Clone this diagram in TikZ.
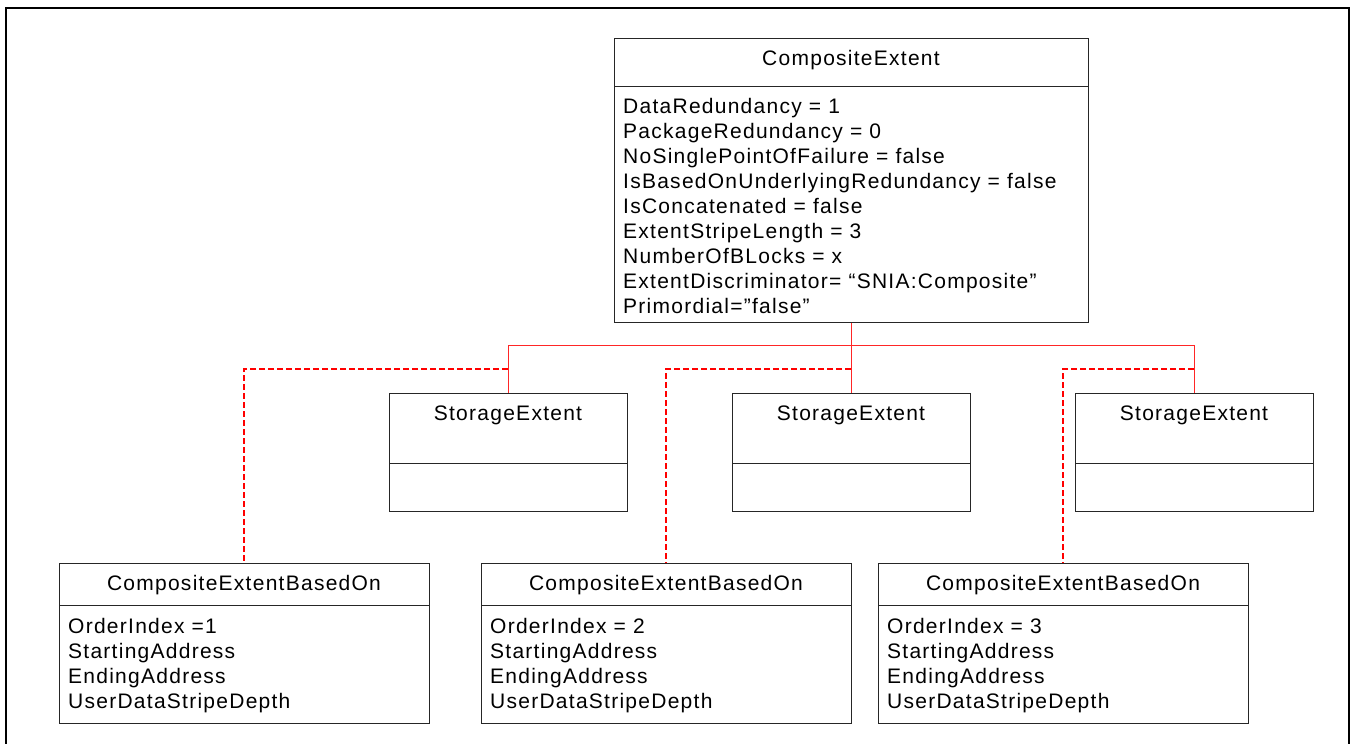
\documentclass[tikz,border=0pt]{standalone}
\usepackage{fontspec}
\newfontfamily\umlfont[LetterSpace=6]{Liberation Sans}
\begin{document}
\begin{tikzpicture}[x=1pt,y=-1pt,
  box/.style={draw=black!85,line width=1pt,rectangle,inner sep=0pt},
  txt/.style={inner sep=0pt,anchor=base west,font=\umlfont\fontsize{21}{25}\selectfont},
  ttl/.style={inner sep=0pt,anchor=base,font=\umlfont\fontsize{21}{25}\selectfont},
  rsolid/.style={draw=red!85,line width=1pt},
  rdash/.style={draw=red,line width=1.5pt,dash pattern=on 6pt off 3pt}]
\useasboundingbox (0,0) rectangle (1352,744);
\draw[line width=2pt] (6,744) -- (6,8) -- (1349,8) -- (1349,744);

% CompositeExtent
\node[box,minimum width=474pt,minimum height=284pt] (ce) at (851,180) {};
\draw[black!85,line width=1pt] (614,86) -- (1088,86);
\node[ttl] (cet) at (851,65) {CompositeExtent};
\node[txt] (a1) at (623,113) {DataRedundancy = 1};
\node[txt] (a2) at (623,138) {PackageRedundancy = 0};
\node[txt] (a3) at (623,163) {NoSinglePointOfFailure = false};
\node[txt] (a4) at (623,188) {IsBasedOnUnderlyingRedundancy = false};
\node[txt] (a5) at (623,213) {IsConcatenated = false};
\node[txt] (a6) at (623,238) {ExtentStripeLength = 3};
\node[txt] (a7) at (623,263) {NumberOfBLocks = x};
\node[txt] (a8) at (623,288) {ExtentDiscriminator= “SNIA:Composite”};
\node[txt] (a9) at (623,313) {Primordial=”false”};

% StorageExtents
\foreach \n/\cx in {1/508,2/851,3/1194}{
  \node[box,minimum width=238pt,minimum height=118pt] (se\n) at (\cx,452) {};
  \draw[black!85,line width=1pt] (\cx-119,463) -- (\cx+119,463);
  \node[ttl] (set\n) at (\cx,420) {StorageExtent};
}

% CompositeExtentBasedOn
\foreach \n/\cx/\idx in {1/244/{=1},2/666/{= 2},3/1063/{= 3}}{
  \node[box,minimum width=370pt,minimum height=160pt] (cb\n) at (\cx,643) {};
  \draw[black!85,line width=1pt] (\cx-185,605) -- (\cx+185,605);
  \node[ttl] (cbt\n) at (\cx,590) {CompositeExtentBasedOn};
  \node[txt] (cba\n) at (\cx-176,633) {OrderIndex \idx};
  \node[txt] (cbb\n) at (\cx-176,658) {StartingAddress};
  \node[txt] (cbc\n) at (\cx-176,683) {EndingAddress};
  \node[txt] (cbd\n) at (\cx-176,708) {UserDataStripeDepth};
}

% connectors
\coordinate (busL) at (508,345);
\coordinate (busM) at (851,345);
\coordinate (busR) at (1194,345);
\draw[rsolid] (ce.south) -- (busM);
\draw[rsolid] (busL) -- (busR);
\draw[rsolid] (busL) -- (se1.north);
\draw[rsolid] (busM) -- (se2.north);
\draw[rsolid] (busR) -- (se3.north);

\coordinate (d1) at (508,369);
\coordinate (d2) at (851,369);
\coordinate (d3) at (1194,369);
\draw[rdash] (d1) -| (cb1.north);
\draw[rdash] (d2) -| (cb2.north);
\draw[rdash] (d3) -| (cb3.north);
\end{tikzpicture}
\end{document}
